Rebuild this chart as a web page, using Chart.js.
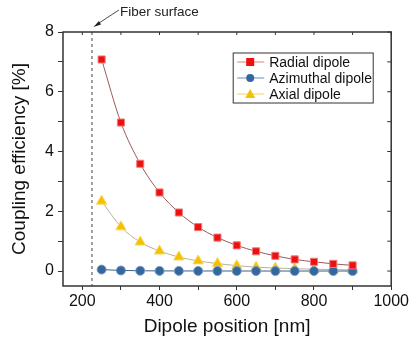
<!DOCTYPE html>
<html>
<head>
<meta charset="utf-8">
<script src="https://cdn.jsdelivr.net/npm/chart.js@4/dist/chart.umd.min.js"></script>
<style>
  html, body { margin: 0; padding: 0; background: #fff; }
  #wrap { width: 411px; height: 342px; position: relative; }
</style>
</head>
<body>
<div id="wrap"><canvas id="myChart" width="411" height="342"></canvas></div>
<script>
// data
const positions = [250, 300, 350, 400, 450, 500, 550, 600, 650, 700, 750, 800, 850, 900]
const radial    = [7.08, 4.97, 3.59, 2.63, 1.96, 1.47, 1.12, 0.86, 0.66, 0.51, 0.39, 0.31, 0.24, 0.19]
const azimuthal = [0.05, 0.02, 0.01, 0.005, 0.004, 0.003, 0.002, 0.002, 0.001, 0.001, 0.001, 0.001, 0.001, 0.001]
const axial     = [2.34, 1.48, 0.97, 0.67, 0.47, 0.34, 0.25, 0.18, 0.13, 0.10, 0.08, 0.06, 0.05, 0.04]
const seriesNames = ['Radial dipole', 'Azimuthal dipole', 'Axial dipole']
const xTicks = [200, 300, 400, 500, 600, 700, 800, 900, 1000]
const yTicks = [0, 1, 2, 3, 4, 5, 6, 7, 8]
const fiberSurface = 225

const FONT = 'Liberation Sans, Arial, sans-serif'
const AXIS = '#333'

let toXY = (vals)=> vals.map((v, i)=>({x: positions[i], y: v}))

// frame, mirrored inward ticks, fiber line + note, legend box
const decorations = {
    id: 'decorations',
    beforeDatasetsDraw(chart){
        const {ctx, chartArea: a, scales: {x}} = chart
        ctx.save()
        // dashed fiber surface line
        let fx = x.getPixelForValue(fiberSurface)
        ctx.strokeStyle = '#444'
        ctx.lineWidth = 1
        ctx.setLineDash([3, 3])
        ctx.beginPath()
        ctx.moveTo(fx, a.top)
        ctx.lineTo(fx, a.bottom)
        ctx.stroke()
        ctx.restore()
    },
    afterDraw(chart){
        const {ctx, chartArea: a, scales: {x, y}} = chart
        ctx.save()
        // frame
        ctx.strokeStyle = AXIS
        ctx.lineWidth = 1.5
        ctx.strokeRect(a.left, a.top, a.right - a.left, a.bottom - a.top)
        // inward ticks top / right
        ctx.lineWidth = 1
        for (let t of xTicks){
            let px = x.getPixelForValue(t)
            ctx.beginPath()
            ctx.moveTo(px, a.top)
            ctx.lineTo(px, a.top + 3)
            ctx.stroke()
        }
        for (let t of yTicks){
            let py = y.getPixelForValue(t)
            ctx.beginPath()
            ctx.moveTo(a.right, py)
            ctx.lineTo(a.right - 4, py)
            ctx.stroke()
        }

        // fiber surface note with arrow
        let fx = x.getPixelForValue(fiberSurface)
        ctx.strokeStyle = '#222'
        ctx.fillStyle = '#222'
        ctx.lineWidth = 0.8
        ctx.beginPath()
        ctx.moveTo(fx + 27, 10)
        ctx.lineTo(fx + 4, 25)
        ctx.stroke()
        ctx.beginPath()
        ctx.moveTo(fx + 1.5, 27)
        ctx.lineTo(fx + 7, 21)
        ctx.lineTo(fx + 9, 24.5)
        ctx.closePath()
        ctx.fill()
        ctx.font = '13.5px ' + FONT
        ctx.textBaseline = 'middle'
        ctx.textAlign = 'left'
        ctx.fillText('Fiber surface', fx + 28, 12)

        // legend box
        let bx = a.right - 158, by = a.top + 21, bw = 140, bh = 50
        ctx.strokeStyle = '#333'
        ctx.lineWidth = 1
        ctx.strokeRect(bx, by, bw, bh)
        ctx.font = '14px ' + FONT
        chart.data.datasets.forEach((ds, i)=>{
            let ly = by + 9 + i * 16
            ctx.strokeStyle = ds.legendLine
            ctx.lineWidth = 1
            ctx.beginPath()
            ctx.moveTo(bx + 4, ly)
            ctx.lineTo(bx + 31, ly)
            ctx.stroke()
            ctx.fillStyle = ds.backgroundColor
            ctx.beginPath()
            if (ds.pointStyle === 'rect'){
                ctx.rect(bx + 13, ly - 4, 8, 8)
            } else if (ds.pointStyle === 'triangle'){
                ctx.moveTo(bx + 17, ly - 5)
                ctx.lineTo(bx + 22, ly + 4)
                ctx.lineTo(bx + 12, ly + 4)
                ctx.closePath()
            } else {
                ctx.arc(bx + 17, ly, 4, 0, Math.PI * 2)
            }
            ctx.fill()
            ctx.fillStyle = '#111'
            ctx.fillText(ds.label, bx + 36, ly + 1)
        })
        ctx.restore()
    }
}

const data = {
    datasets: [{
        label: seriesNames[0],
        data: toXY(radial),
        borderColor: '#9a5a5a',
        legendLine: '#e08080',
        backgroundColor: '#ee0f0f',
        pointBorderColor: '#f07a7a',
        pointStyle: 'rect',
        pointRadius: 5,
        pointBorderWidth: 1,
        borderWidth: 1,
        cubicInterpolationMode: 'monotone'
    }, {
        label: seriesNames[1],
        data: toXY(azimuthal),
        borderColor: '#3d5f80',
        legendLine: '#6a8cb0',
        backgroundColor: '#33679e',
        pointBorderColor: '#7a9cc2',
        pointStyle: 'circle',
        pointRadius: 4.5,
        pointBorderWidth: 1,
        borderWidth: 1,
        cubicInterpolationMode: 'monotone'
    }, {
        label: seriesNames[2],
        data: toXY(axial),
        borderColor: '#b8b09a',
        legendLine: '#f2d060',
        backgroundColor: '#f5c000',
        pointBorderColor: '#f8d860',
        pointStyle: 'triangle',
        pointRadius: 6,
        pointBorderWidth: 1,
        borderWidth: 1,
        cubicInterpolationMode: 'monotone'
    }]
}

const config = {
    type: 'line',
    data,
    options: {
        responsive: false,
        animation: false,
        layout: { padding: { top: 32, right: 16, left: 0, bottom: 0 } },
        plugins: { legend: { display: false }, tooltip: { enabled: false } },
        scales: {
            x: {
                type: 'linear',
                min: 150, max: 1000,
                afterBuildTicks: (s)=>{ s.ticks = xTicks.map(v=>({value: v})) },
                afterFit: (s)=>{ s.height = 56 },
                grid: { drawOnChartArea: false, tickLength: 4, color: AXIS },
                border: { display: false },
                ticks: {
                    color: '#111', padding: 2, maxRotation: 0, autoSkip: false,
                    font: { family: FONT, size: 16 },
                    callback: (v)=> v % 200 === 0 ? String(v) : ''
                },
                title: { display: true, text: 'Dipole position [nm]', color: '#111',
                         font: { family: FONT, size: 19 }, padding: { top: 1 } }
            },
            y: {
                min: -0.5, max: 8,
                afterBuildTicks: (s)=>{ s.ticks = yTicks.map(v=>({value: v})) },
                afterFit: (s)=>{ s.width = 63 },
                grid: { drawOnChartArea: false, tickLength: 5, color: AXIS },
                border: { display: false },
                ticks: {
                    color: '#111', padding: 4, autoSkip: false,
                    font: { family: FONT, size: 16 },
                    callback: (v)=> v % 2 === 0 ? String(v) : ''
                },
                title: { display: true, text: 'Coupling efficiency [%]', color: '#111',
                         font: { family: FONT, size: 19 }, padding: { top: 8, bottom: 2 } }
            }
        }
    },
    plugins: [decorations]
}

new Chart(document.getElementById('myChart'), config)
</script>
</body>
</html>
